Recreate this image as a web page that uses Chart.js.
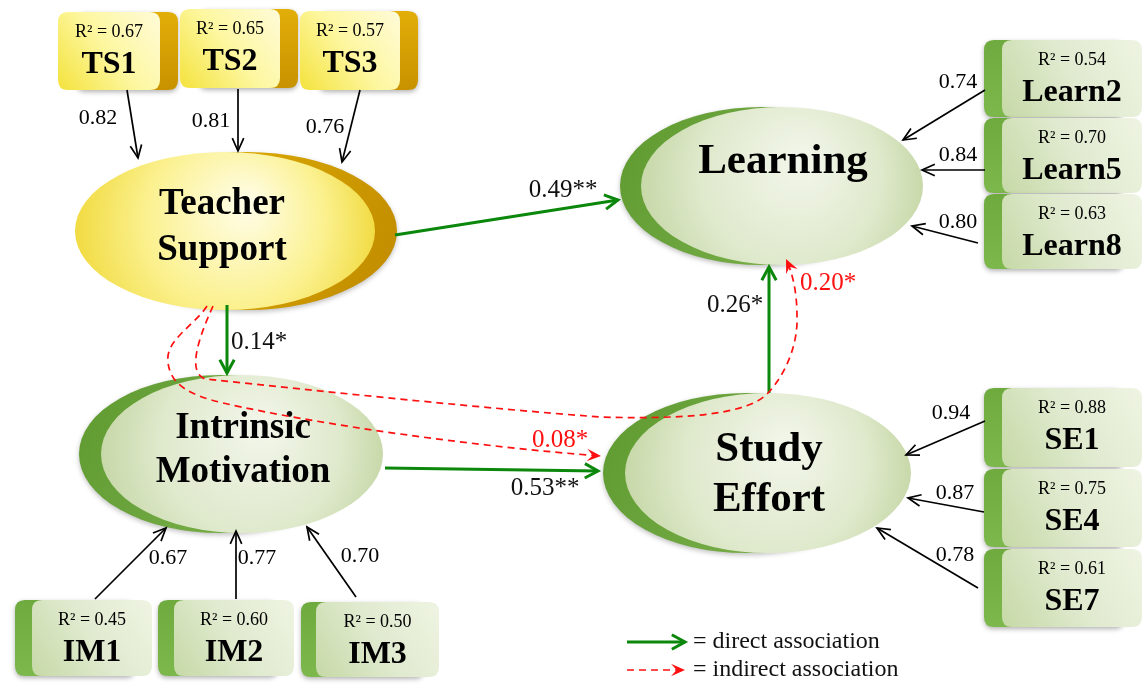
<!DOCTYPE html>
<html>
<head>
<meta charset="utf-8">
<script src="https://cdn.jsdelivr.net/npm/chart.js@4.4.1/dist/chart.umd.min.js"></script>
<style>
html, body { margin: 0; padding: 0; background: #fff; }
#wrap { width: 1145px; height: 686px; }
</style>
</head>
<body>
<div id="wrap"><canvas id="pathModel" width="1145" height="686"></canvas></div>
<script>
'use strict'

// measurement model values
var indicators = ['TS1', 'TS2', 'TS3', 'IM1', 'IM2', 'IM3', 'Learn2', 'Learn5', 'Learn8', 'SE1', 'SE4', 'SE7']
var rSquared = [0.67, 0.65, 0.57, 0.45, 0.60, 0.50, 0.54, 0.70, 0.63, 0.88, 0.75, 0.61]
var loadings = [0.82, 0.81, 0.76, 0.67, 0.77, 0.70, 0.74, 0.84, 0.80, 0.94, 0.87, 0.78]

// structural model values
var latents = [['Teacher', 'Support'], ['Intrinsic', 'Motivation'], ['Learning'], ['Study', 'Effort']]
var directCoef = ['0.49**', '0.14*', '0.53**', '0.26*']
var indirectCoef = ['0.08*', '0.20*']
var legendLabels = ['= direct association', '= indirect association']

// layout (diagram units, same as the 1145 x 686 frame)
var boxLeft = [58, 180, 300, 32, 174, 316, 1002, 1002, 1002, 1002, 1002, 1002]
var boxTop = [12, 9, 11, 600, 600, 602, 40, 118, 194, 388, 469, 549]
var boxW = [102, 100, 100, 120, 120, 123, 140, 140, 140, 140, 140, 140]
var boxH = [78, 79, 79, 76, 76, 75, 77, 75, 75, 79, 78, 78]
var boxSide = [18, 18, 18, -17, -16, -15, -18, -18, -18, -18, -18, -18]
var loadFrom = [[127, 90], [238, 89], [360, 90], [95, 599], [236, 599], [356, 597], [985, 90], [985, 170], [978, 243], [985, 421], [984, 512], [978, 588]]
var loadTo = [[138, 158], [238, 151], [342, 162], [166, 528], [236, 531], [307, 527], [903, 140], [922, 170], [912, 226], [906, 455], [908, 498], [877, 528]]
var loadLabel = [[98, 118], [211, 121], [325, 127], [168, 558], [257, 558], [360, 556], [958, 82], [958, 155], [958, 222], [951, 413], [955, 493], [955, 555]]

var latX = [225, 242, 782, 768]
var latY = [231, 454, 186, 473]
var latRx = [150, 141, 141, 143]
var latRy = [79, 79, 79, 80]
var latSide = [22, -22, -21, -22]
var latFont = [37, 37, 43, 43]
var latLineGap = [46, 44, 0, 50]
var latTextY = [227, 450, 162, 475]

var directFrom = [[395, 235], [227, 305], [385, 468], [769, 393]]
var directTo = [[618, 200], [227, 373], [598, 471], [769, 267]]
var directLabel = [[563, 190], [259, 342], [545, 488], [735, 305]]

var indirectCurves = [
    [[207, 306], [195, 325], [165, 340], [168, 362], [170, 385], [190, 395], [223, 403], [320, 425], [480, 447], [601, 456]],
    [[213, 306], [200, 335], [186, 372], [205, 379], [330, 392], [480, 408], [600, 417], [700, 420], [750, 412], [768, 393], [785, 375], [798, 345], [797, 317], [797, 290], [792, 272], [786, 259]]
]
var indirectLabel = [[560, 440], [828, 283]]

var SERIF = '"Liberation Serif", "DejaVu Serif", serif'
var GREEN = '#0b870b'
var RED = '#ff1010'

function roundRect(ctx, x, y, w, h, r) {
    ctx.beginPath()
    ctx.moveTo(x + r, y)
    ctx.lineTo(x + w - r, y)
    ctx.quadraticCurveTo(x + w, y, x + w, y + r)
    ctx.lineTo(x + w, y + h - r)
    ctx.quadraticCurveTo(x + w, y + h, x + w - r, y + h)
    ctx.lineTo(x + r, y + h)
    ctx.quadraticCurveTo(x, y + h, x, y + h - r)
    ctx.lineTo(x, y + r)
    ctx.quadraticCurveTo(x, y, x + r, y)
    ctx.closePath()
}

function vHead(ctx, x1, y1, x2, y2, len, spread) {
    var a = Math.atan2(y2 - y1, x2 - x1)
    ctx.beginPath()
    ctx.moveTo(x2 - len * Math.cos(a - spread), y2 - len * Math.sin(a - spread))
    ctx.lineTo(x2, y2)
    ctx.lineTo(x2 - len * Math.cos(a + spread), y2 - len * Math.sin(a + spread))
    ctx.stroke()
}

function filledHead(ctx, x1, y1, x2, y2, len) {
    var a = Math.atan2(y2 - y1, x2 - x1)
    var c = Math.cos(a), s = Math.sin(a)
    ctx.beginPath()
    ctx.moveTo(x2, y2)
    ctx.lineTo(x2 - len * c + 0.45 * len * s, y2 - len * s - 0.45 * len * c)
    ctx.lineTo(x2 - 0.6 * len * c, y2 - 0.6 * len * s)
    ctx.lineTo(x2 - len * c - 0.45 * len * s, y2 - len * s + 0.45 * len * c)
    ctx.closePath()
    ctx.fill()
}

var diagramPlugin = {
    id: 'diagram',
    afterDatasetsDraw: function (chart) {
        var ctx = chart.ctx
        var sx = chart.scales.x, sy = chart.scales.y
        var X = function (v) { return sx.getPixelForValue(v) }
        var Y = function (v) { return sy.getPixelForValue(v) }
        var k = X(1) - X(0)

        ctx.save()
        ctx.textAlign = 'center'
        ctx.textBaseline = 'middle'

        // latent ellipses
        for (var i = 0; i < latents.length; i++) {
            var cx = X(latX[i]), cy = Y(latY[i]), rx = latRx[i] * k, ry = latRy[i] * k
            var yellow = i === 0
            var bx = X(latX[i] + latSide[i])
            var bg = ctx.createLinearGradient(bx - rx, cy - ry, bx + rx, cy + ry)
            if (yellow) { bg.addColorStop(0, '#e8b800'); bg.addColorStop(1, '#c08a00') }
            else { bg.addColorStop(0, '#5e9a30'); bg.addColorStop(1, '#83b653') }
            ctx.save()
            ctx.shadowColor = 'rgba(0,0,0,0.25)'
            ctx.shadowBlur = 5
            ctx.shadowOffsetY = 2
            ctx.beginPath()
            ctx.ellipse(bx, cy, rx, ry, 0, 0, Math.PI * 2)
            ctx.fillStyle = bg
            ctx.fill()
            ctx.restore()

            var fg = ctx.createRadialGradient(cx + rx * 0.15, cy - ry * 0.35, 4, cx, cy, rx * 1.05)
            if (yellow) { fg.addColorStop(0, '#fffde6'); fg.addColorStop(0.55, '#fbf190'); fg.addColorStop(1, '#f0d93a') }
            else { fg.addColorStop(0, '#f2f6ea'); fg.addColorStop(0.6, '#dfe9cc'); fg.addColorStop(1, '#c4d6a4') }
            ctx.beginPath()
            ctx.ellipse(cx, cy, rx, ry, 0, 0, Math.PI * 2)
            ctx.fillStyle = fg
            ctx.fill()

            ctx.fillStyle = '#000'
            ctx.font = 'bold ' + latFont[i] * k + 'px ' + SERIF
            var lines = latents[i]
            for (var j = 0; j < lines.length; j++) {
                var ty = latTextY[i] - (lines.length - 1) * latLineGap[i] / 2 + j * latLineGap[i]
                ctx.fillText(lines[j], X(latX[i] + (yellow ? -3 : 1)), Y(ty))
            }
        }

        // indicator boxes
        for (var i = 0; i < indicators.length; i++) {
            var x = X(boxLeft[i]), y = Y(boxTop[i]), w = boxW[i] * k, h = boxH[i] * k
            var yellow = i < 3
            var side = boxSide[i] * k
            ctx.save()
            ctx.shadowColor = 'rgba(0,0,0,0.3)'
            ctx.shadowBlur = 5
            ctx.shadowOffsetY = 2
            var sg = ctx.createLinearGradient(x + side, y, x + side, y + h)
            if (yellow) { sg.addColorStop(0, '#e2ae08'); sg.addColorStop(1, '#c89200') }
            else { sg.addColorStop(0, '#6eaa3e'); sg.addColorStop(1, '#7db84c') }
            roundRect(ctx, x + side, y, w, h, 10 * k)
            ctx.fillStyle = sg
            ctx.fill()
            ctx.restore()

            var fg = ctx.createLinearGradient(x + w, y, x, y + h)
            if (yellow) { fg.addColorStop(0, '#fffbd8'); fg.addColorStop(0.5, '#fdf7a0'); fg.addColorStop(1, '#f4e23c') }
            else { fg.addColorStop(0, '#eef4e2'); fg.addColorStop(0.5, '#e0eacf'); fg.addColorStop(1, '#c6d9a6') }
            roundRect(ctx, x, y, w, h, 10 * k)
            ctx.fillStyle = fg
            ctx.fill()

            ctx.fillStyle = '#000'
            var tx = X(boxLeft[i] + boxW[i] / 2)
            ctx.font = 18 * k + 'px ' + SERIF
            ctx.fillText('R\u00b2 = ' + rSquared[i].toFixed(2), tx, Y(boxTop[i] + 20))
            ctx.font = 'bold ' + 32 * k + 'px ' + SERIF
            ctx.fillText(indicators[i], tx, Y(boxTop[i] + 53))
        }

        // loading arrows
        ctx.strokeStyle = '#000'
        ctx.lineWidth = 1.7 * k
        for (var i = 0; i < loadings.length; i++) {
            var a = loadFrom[i], b = loadTo[i]
            ctx.beginPath()
            ctx.moveTo(X(a[0]), Y(a[1]))
            ctx.lineTo(X(b[0]), Y(b[1]))
            ctx.stroke()
            vHead(ctx, X(a[0]), Y(a[1]), X(b[0]), Y(b[1]), 14 * k, 0.42)
            ctx.fillStyle = '#000'
            ctx.font = 22 * k + 'px ' + SERIF
            ctx.fillText(loadings[i].toFixed(2), X(loadLabel[i][0]), Y(loadLabel[i][1]))
        }

        // direct paths
        ctx.strokeStyle = GREEN
        ctx.lineWidth = 3 * k
        for (var i = 0; i < directCoef.length; i++) {
            var a = directFrom[i], b = directTo[i]
            ctx.beginPath()
            ctx.moveTo(X(a[0]), Y(a[1]))
            ctx.lineTo(X(b[0]), Y(b[1]))
            ctx.stroke()
            vHead(ctx, X(a[0]), Y(a[1]), X(b[0]), Y(b[1]), 15 * k, 0.5)
            ctx.fillStyle = '#111'
            ctx.font = 25 * k + 'px ' + SERIF
            ctx.fillText(directCoef[i], X(directLabel[i][0]), Y(directLabel[i][1]))
        }

        // indirect paths
        ctx.strokeStyle = RED
        ctx.fillStyle = RED
        ctx.lineWidth = 1.7 * k
        for (var i = 0; i < indirectCoef.length; i++) {
            var p = indirectCurves[i]
            ctx.setLineDash([7 * k, 5 * k])
            ctx.beginPath()
            ctx.moveTo(X(p[0][0]), Y(p[0][1]))
            for (var j = 1; j + 2 < p.length; j += 3) {
                ctx.bezierCurveTo(X(p[j][0]), Y(p[j][1]), X(p[j + 1][0]), Y(p[j + 1][1]), X(p[j + 2][0]), Y(p[j + 2][1]))
            }
            ctx.stroke()
            ctx.setLineDash([])
            var e = p[p.length - 1], c = p[p.length - 2]
            filledHead(ctx, X(c[0]), Y(c[1]), X(e[0]), Y(e[1]), 14 * k)
            ctx.font = 25 * k + 'px ' + SERIF
            ctx.fillText(indirectCoef[i], X(indirectLabel[i][0]), Y(indirectLabel[i][1]))
        }

        // legend
        var legY = [642, 670]
        for (var i = 0; i < legendLabels.length; i++) {
            var x1 = X(627), x2 = X(685), ly = Y(legY[i])
            if (i === 0) {
                ctx.strokeStyle = GREEN
                ctx.lineWidth = 3 * k
                ctx.setLineDash([])
            } else {
                ctx.strokeStyle = RED
                ctx.lineWidth = 1.7 * k
                ctx.setLineDash([7 * k, 5 * k])
            }
            ctx.beginPath()
            ctx.moveTo(x1, ly)
            ctx.lineTo(x2 - (i === 0 ? 0 : 6 * k), ly)
            ctx.stroke()
            ctx.setLineDash([])
            if (i === 0) vHead(ctx, x1, ly, x2, ly, 15 * k, 0.5)
            else { ctx.fillStyle = RED; filledHead(ctx, x1, ly, x2, ly, 14 * k) }
            ctx.fillStyle = '#111'
            ctx.textAlign = 'left'
            ctx.font = 24 * k + 'px ' + SERIF
            ctx.fillText(legendLabels[i], X(693), ly)
            ctx.textAlign = 'center'
        }
        ctx.restore()
    }
}

var nodePoints = []
for (var i = 0; i < latX.length; i++) nodePoints.push({ x: latX[i], y: latY[i] })

var ctx = document.getElementById('pathModel')
new Chart(ctx, {
    type: 'scatter',
    data: { datasets: [{ data: nodePoints, pointRadius: 0 }] },
    options: {
        responsive: false,
        animation: false,
        events: [],
        layout: { padding: 0 },
        plugins: { legend: { display: false }, tooltip: { enabled: false } },
        scales: {
            x: { type: 'linear', min: 0, max: 1145, display: false },
            y: { type: 'linear', min: 0, max: 686, reverse: true, display: false }
        }
    },
    plugins: [diagramPlugin]
})
</script>
</body>
</html>
